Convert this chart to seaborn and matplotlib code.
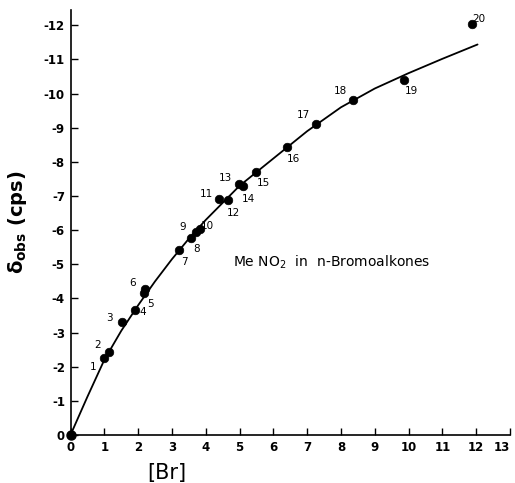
import numpy as np
import pandas as pd
import matplotlib
matplotlib.use('Agg')
import matplotlib.pyplot as plt
import seaborn as sns

# observed points (numbered 1..20)
point_id = list(range(1, 21))
br_conc = [1.00, 1.13, 1.52, 1.92, 2.17, 2.20, 3.22, 3.57, 3.70, 3.83,
           4.40, 4.67, 4.99, 5.09, 5.49, 6.40, 7.27, 8.36, 9.87, 11.88]
delta_obs = [-2.25, -2.42, -3.31, -3.67, -4.15, -4.29, -5.43, -5.77, -5.96, -6.04,
             -6.91, -6.88, -7.36, -7.28, -7.71, -8.44, -9.12, -9.82, -10.40, -12.05]

# fitted curve
curve_x = [0, 0.5, 1, 1.5, 2, 2.5, 3, 3.5, 4, 5, 6, 7, 8, 9, 10, 11, 12.04]
curve_y = [0, -1.12, -2.2, -3.05, -3.8, -4.5, -5.15, -5.75, -6.3, -7.3, -8.1,
           -8.9, -9.6, -10.15, -10.6, -11.02, -11.44]

x_ticks = list(range(0, 14))
y_ticks = [0, -1, -2, -3, -4, -5, -6, -7, -8, -9, -10, -11, -12]
y_tick_labels = ['0', '-1', '-2', '-3', '-4', '-5', '-6', '-7', '-8', '-9', '-10', '-11', '-12']

# label offsets (points) for the point numbers
label_offsets = [(-8, -6), (-8, 5), (-9, 3), (5, -2), (5, -8), (-9, 4), (4, -9), (4, -8),
                 (-9, 3), (5, 2), (-9, 4), (4, -9), (-10, 4), (4, -9), (5, -8), (5, -9),
                 (-9, 6), (-9, 6), (5, -8), (5, 3)]

sns.set_style('ticks')
plt.rcParams['font.family'] = ['DejaVu Sans']
plt.rcParams['axes.unicode_minus'] = False
plt.rcParams['text.color'] = 'black'
plt.rcParams['axes.labelcolor'] = 'black'
plt.rcParams['xtick.color'] = 'black'
plt.rcParams['ytick.color'] = 'black'

fig = plt.figure(figsize=(5.15, 4.83), dpi=100)
ax = fig.add_axes([70.5 / 515, 48 / 483, 439.5 / 515, 425 / 483])

df = pd.DataFrame({'Br': br_conc, 'delta': delta_obs, 'id': point_id})
curve = pd.DataFrame({'Br': curve_x, 'delta': curve_y})

sns.lineplot(data=curve, x='Br', y='delta', ax=ax, color='black', lw=1.3,
             sort=False, estimator=None)
sns.scatterplot(data=df, x='Br', y='delta', ax=ax, color='black', s=38,
                edgecolor='black', linewidth=0.5, zorder=3)
ax.plot(curve_x[0], curve_y[0], 'o', color='black', ms=6.5, zorder=4, clip_on=False)

for (i, x, y), off in zip(zip(point_id, br_conc, delta_obs), label_offsets):
    ax.annotate(str(i), (x, y), xytext=off, textcoords='offset points',
                fontsize=7.5, ha='center', va='center')

ax.set_xlim(0, 13)
ax.set_ylim(0, -12.45)
ax.set_xticks(x_ticks)
ax.set_xticklabels([str(t) for t in x_ticks], fontsize=8.5, fontweight='bold')
ax.get_xticklabels()[-1].set_ha('right')
ax.set_yticks(y_ticks)
ax.set_yticklabels(y_tick_labels, fontsize=8.5, fontweight='bold')
ax.tick_params(direction='in', length=5, width=1, pad=4)

for s in ['top', 'right']:
    ax.spines[s].set_visible(False)
for s in ['left', 'bottom']:
    ax.spines[s].set_linewidth(1.2)
    ax.spines[s].set_color('black')

ax.set_xlabel('[Br]', fontsize=15)
ax.xaxis.set_label_coords((167 - 70.5) / 439.5, -0.065)
ax.set_ylabel(r'δ$_{\mathregular{obs}}$ (cps)', fontsize=14, fontweight='bold')
ax.yaxis.set_label_coords(-0.095, 0.5)

ax.text(4.8, -5.05, r'Me NO$_2$  in  n-Bromoalkones', fontsize=10, ha='left', va='center')

fig.savefig('out.png', dpi=100)
